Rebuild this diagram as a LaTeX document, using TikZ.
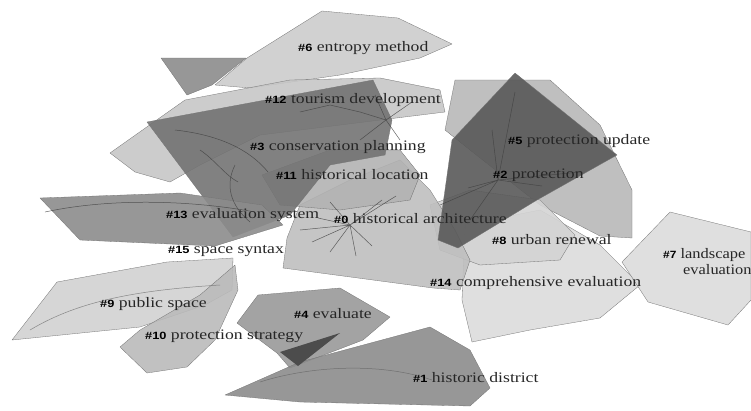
\documentclass[tikz,border=0pt]{standalone}
\usepackage{fontspec}
\setmainfont{Liberation Serif}
\newfontfamily\tagfont{Liberation Sans}
\usepackage{tikz}

\newcommand{\clab}[2]{\scalebox{1.22}[1]{{\tagfont\bfseries\fontsize{10.5}{11}\selectfont\color{black}\##1} #2}}

\begin{document}
\begin{tikzpicture}[x={(1pt,0)},y={(0,-1pt)},line join=round]
  \tikzset{hull/.style={draw=black!55,line width=0.3pt,fill opacity=0.9},
    vein/.style={draw=black!75,line width=0.5pt,opacity=0.8},
    lbl/.style={anchor=west,inner sep=0pt,text=black!85,font=\fontsize{14.5}{13}\selectfont}}
  \useasboundingbox (0,0) rectangle (751,410);
  % cluster hulls, back to front
  \draw[hull,fill=black!20] (322,11) -- (398,18) -- (452,44) -- (420,58) -- (340,75) -- (250,88) -- (215,85) -- (247,58) -- cycle;
  \draw[hull,fill=black!22] (110,153) -- (185,100) -- (290,80) -- (380,78) -- (440,90) -- (445,112) -- (380,120) -- (260,135) -- (200,165) -- (170,182) -- (135,172) -- cycle;
  \draw[hull,fill=black!45] (161,58) -- (246,58) -- (212,85) -- (187,95) -- cycle;
  \draw[hull,fill=black!28] (455,80) -- (550,80) -- (600,125) -- (632,190) -- (632,238) -- (600,236) -- (540,205) -- (470,150) -- (445,130) -- cycle;
  \draw[hull,fill=black!14] (465,225) -- (540,210) -- (600,245) -- (640,285) -- (600,318) -- (530,330) -- (472,342) -- (462,300) -- cycle;
  \draw[hull,fill=black!17] (430,205) -- (470,190) -- (540,200) -- (575,235) -- (560,260) -- (480,265) -- (440,250) -- cycle;
  \draw[hull,fill=black!25] (283,268) -- (287,238) -- (300,205) -- (350,180) -- (400,160) -- (430,190) -- (455,230) -- (470,260) -- (460,290) -- (433,288) -- cycle;
  \draw[hull,fill=black!30] (262,175) -- (330,150) -- (400,150) -- (420,175) -- (410,200) -- (340,210) -- (280,205) -- cycle;
  \draw[hull,fill=black!55] (147,122) -- (373,80) -- (392,120) -- (385,155) -- (330,165) -- (290,215) -- (233,237) -- cycle;
  \draw[hull,fill=black!45] (40,198) -- (180,193) -- (262,205) -- (283,225) -- (215,246) -- (80,240) -- cycle;
  \draw[hull,fill=black!18] (12,340) -- (57,282) -- (167,262) -- (233,258) -- (232,290) -- (205,305) -- (140,327) -- cycle;
  \draw[hull,fill=black!27] (120,347) -- (140,330) -- (200,295) -- (235,265) -- (238,290) -- (215,340) -- (187,367) -- (147,373) -- cycle;
  \draw[hull,fill=black!40] (237,323) -- (258,295) -- (340,288) -- (390,317) -- (363,340) -- (290,368) -- (277,353) -- cycle;
  \draw[hull,fill=black!45] (225,395) -- (300,362) -- (430,327) -- (470,350) -- (490,388) -- (470,406) -- (300,402) -- cycle;
  \draw[hull,fill=black!14] (622,262) -- (670,212) -- (751,232) -- (751,300) -- (728,325) -- (648,302) -- cycle;
  \draw[hull,fill=black!65] (515,73) -- (617,155) -- (537,200) -- (458,248) -- (438,240) -- (452,140) -- cycle;
  \fill[black!70] (280,352) -- (340,333) -- (298,366) -- cycle;
  % citation links
  \draw[vein] (175,130) .. controls (220,135) and (250,150) .. (268,172);
  \draw[vein] (235,165) .. controls (225,185) and (230,205) .. (250,222);
  \draw[vein] (200,150) .. controls (215,160) and (225,175) .. (238,182);
  \draw[vein] (375,95) -- (386,120) -- (360,140) (386,120) -- (412,102) (386,120) -- (400,140);
  \draw[vein] (300,112) -- (330,105) -- (360,112) -- (386,120);
  \draw[vein] (45,212) .. controls (110,198) and (190,200) .. (255,212);
  \draw[vein] (350,225) -- (300,230) (350,225) -- (312,242) (350,225) -- (330,252)
    (350,225) -- (356,256) (350,225) -- (372,246) (350,225) -- (382,200)
    (350,225) -- (396,196) (350,225) -- (330,202) (350,225) -- (318,218);
  \draw[vein] (498,180) -- (515,92) (498,180) -- (492,130) (498,180) -- (468,188)
    (498,180) -- (440,205) (498,180) -- (542,186) (498,180) -- (580,172) (498,180) -- (470,220);
  \draw[vein,black!60] (260,382) .. controls (310,366) and (380,362) .. (432,380);
  \draw[vein,black!55] (30,330) .. controls (80,300) and (140,290) .. (220,285);
  % cluster labels
  \node[lbl] (l6) at (298,48) {\clab{6}{entropy method}};
  \node[lbl] (l12) at (265,100) {\clab{12}{tourism development}};
  \node[lbl] (l3) at (250,147) {\clab{3}{conservation planning}};
  \node[lbl] (l11) at (276,175) {\clab{11}{historical location}};
  \node[lbl] (l5) at (508,141) {\clab{5}{protection update}};
  \node[lbl] (l2) at (493,175) {\clab{2}{protection}};
  \node[lbl] (l13) at (166,215) {\clab{13}{evaluation system}};
  \node[lbl] (l0) at (334,219) {\clab{0}{historical architecture}};
  \node[lbl] (l8) at (492,240) {\clab{8}{urban renewal}};
  \node[lbl] (l15) at (168,251) {\clab{15}{space syntax}};
  \node[lbl] (l7) at (663,255) {\scalebox{0.93}[1]{\clab{7}{landscape}}};
  \node[lbl,anchor=north west] (l7b) at (683,264) {\scalebox{1.13}[1]{evaluation}};
  \node[lbl] (l14) at (430,283) {\clab{14}{comprehensive evaluation}};
  \node[lbl] (l9) at (100,304) {\clab{9}{public space}};
  \node[lbl] (l4) at (294,314) {\clab{4}{evaluate}};
  \node[lbl] (l10) at (145,336) {\clab{10}{protection strategy}};
  \node[lbl] (l1) at (413,378) {\clab{1}{historic district}};
\end{tikzpicture}
\end{document}
